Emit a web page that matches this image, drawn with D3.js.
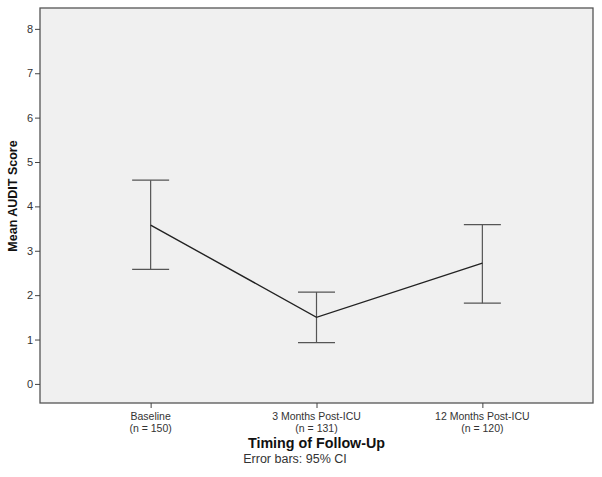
<!DOCTYPE html>
<html><head><meta charset="utf-8">
<script src="https://cdn.jsdelivr.net/npm/d3@7"></script>
<style>body{margin:0;background:#fff}svg{display:block}</style>
</head><body><svg id="c" width="602" height="477"></svg>
<script>
const categories = ["Baseline", "3 Months Post-ICU", "12 Months Post-ICU"];
const sampleSizes = ["(n = 150)", "(n = 131)", "(n = 120)"];
const means = [3.58, 1.50, 2.72];
const lower = [2.58, 0.93, 1.82];
const upper = [4.59, 2.07, 3.59];
const yTicks = [0, 1, 2, 3, 4, 5, 6, 7, 8];

const svg = d3.select("#c");
const L = 40, R = 593, T = 8, B = 403;
const font = "'Liberation Sans', Arial, sans-serif";
const x = d3.scalePoint().domain(categories).range([L, R]).padding(0.667);
const y = d3.scaleLinear().domain([-0.43, 8.47]).range([B, T]);

svg.append("rect").attr("x", L).attr("y", T).attr("width", R - L).attr("height", B - T)
  .attr("fill", "#f0f0f0").attr("stroke", "#555").attr("stroke-width", 1.3);

const ya = svg.append("g").attr("transform", `translate(${L},0)`)
  .call(d3.axisLeft(y).tickValues(yTicks).tickSize(5).tickPadding(2));
ya.select(".domain").remove();
ya.selectAll("line").attr("stroke", "#444");
ya.selectAll("text").attr("font-family", font).attr("font-size", 11).attr("fill", "#333");

const xa = svg.append("g").attr("transform", `translate(0,${B})`)
  .call(d3.axisBottom(x).tickSize(5).tickFormat(""));
xa.select(".domain").remove();
xa.selectAll("line").attr("stroke", "#444");

categories.forEach((c, i) => {
  const t = svg.append("text").attr("x", x(c)).attr("text-anchor", "middle")
    .attr("font-family", font).attr("font-size", 10.5).attr("fill", "#333");
  t.append("tspan").attr("x", x(c)).attr("y", 419.5).text(c);
  t.append("tspan").attr("x", x(c)).attr("y", 431.5).text(sampleSizes[i]);
});

// error bars
const cap = 18.5;
categories.forEach((c, i) => {
  const g = svg.append("g").attr("stroke", "#555").attr("stroke-width", 1.2);
  g.append("line").attr("x1", x(c)).attr("x2", x(c)).attr("y1", y(lower[i])).attr("y2", y(upper[i]));
  g.append("line").attr("x1", x(c) - cap).attr("x2", x(c) + cap).attr("y1", y(upper[i])).attr("y2", y(upper[i]));
  g.append("line").attr("x1", x(c) - cap).attr("x2", x(c) + cap).attr("y1", y(lower[i])).attr("y2", y(lower[i]));
});

svg.append("path").datum(categories)
  .attr("d", d3.line().x(c => x(c)).y((c, i) => y(means[i])))
  .attr("fill", "none").attr("stroke", "#222").attr("stroke-width", 1.4);

svg.append("text").attr("transform", `translate(17,196) rotate(-90)`)
  .attr("text-anchor", "middle").attr("font-family", font).attr("font-size", 12.5)
  .attr("font-weight", "bold").attr("fill", "#111").text("Mean AUDIT Score");

svg.append("text").attr("x", x(categories[1])).attr("y", 448).attr("text-anchor", "middle")
  .attr("font-family", font).attr("font-size", 14.3).attr("font-weight", "bold")
  .attr("fill", "#111").text("Timing of Follow-Up");

svg.append("text").attr("x", 295).attr("y", 463).attr("text-anchor", "middle")
  .attr("font-family", font).attr("font-size", 12.5).attr("fill", "#333").text("Error bars: 95% CI");
</script></body></html>
